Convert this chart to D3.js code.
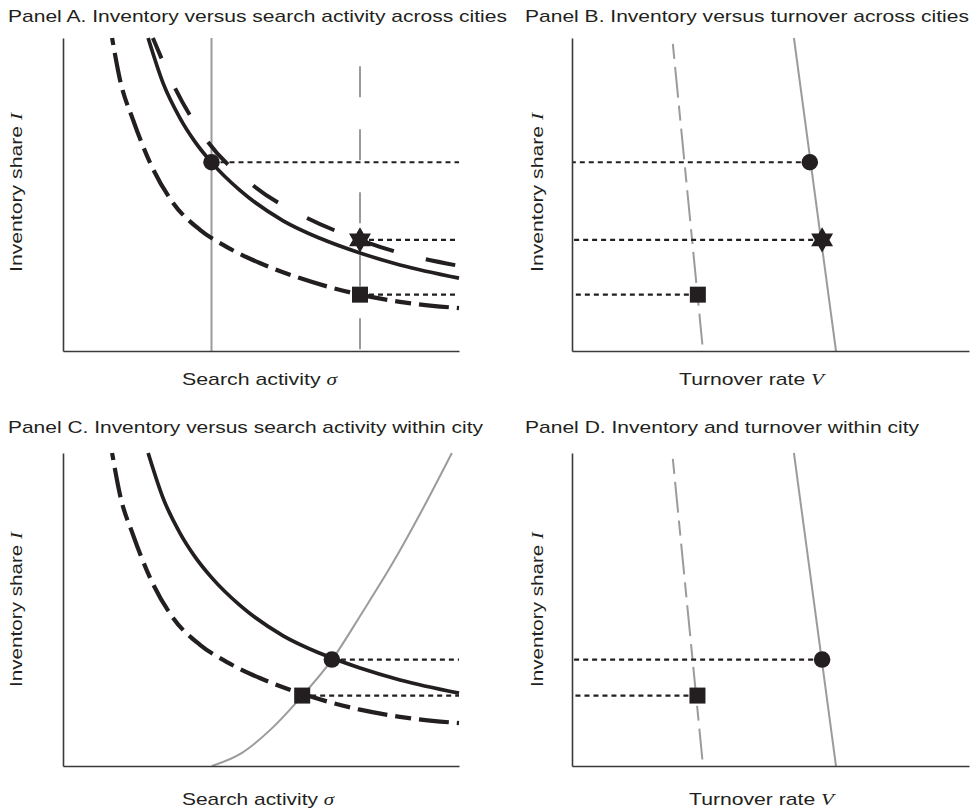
<!DOCTYPE html>
<html>
<head lang="en">
<meta charset="utf-8">
<title>Inventory, search activity and turnover</title>
<style>
body { margin: 0; background: #fff; }
text { font-family: "Liberation Sans", Arial, sans-serif; fill: #231f20; }
</style>
<script src="https://cdnjs.cloudflare.com/ajax/libs/d3/7.8.5/d3.min.js"></script>
</head>
<body>
<script>
// Both axes are unitless; every panel runs 0..10 on each axis
var xDomain = [0, 10],
	yDomain = [0, 10];

// Iso-curves in (search activity, inventory share)
var baseCurve = [[2.15, 10], [2.53, 8.55], [2.95, 7.45], [3.33, 6.69], [3.76, 6.01], [4.47, 5.13],
				 [5.56, 4.16], [6.49, 3.60], [7.50, 3.13], [8.51, 2.75], [10, 2.33]];
var highCurve = [[2.27, 10], [2.83, 8.40], [3.66, 6.68], [4.85, 5.24], [6.16, 4.25], [7.50, 3.55],
				 [8.43, 3.16], [10, 2.72]];
var lowCurve = [[1.24, 10], [1.44, 8.66], [1.77, 7.38], [2.20, 6.01], [2.78, 4.73], [3.46, 3.87],
				[4.14, 3.32], [4.97, 2.81], [5.98, 2.33], [7.50, 1.80], [8.51, 1.57], [10, 1.37]];
// Within-city upward sloping curve (panel C)
var withinCurve = [[3.76, 0], [4.52, 0.42], [5.28, 1.21], [6.04, 2.24], [6.79, 3.39], [7.55, 4.89],
				   [8.31, 6.45], [9.07, 8.18], [9.82, 10]];
// Search activity levels of the two cities (panel A)
var sigmaLow = 3.75, sigmaHigh = 7.5, sigmaHighTop = 9.1;

// Turnover lines in (turnover, inventory share), panels B and D
var turnoverSolid = [[5.59, 10], [6.65, 0]];
var turnoverDashed = [[2.54, 9.81], [3.30, 0]];

// Equilibrium points
var pointsA = [{ type: "circle", x: 3.75, y: 6.03 }, { type: "star", x: 7.5, y: 3.55 }, { type: "square", x: 7.5, y: 1.80 }];
var pointsB = [{ type: "circle", x: 5.99, y: 6.03 }, { type: "star", x: 6.30, y: 3.55 }, { type: "square", x: 3.17, y: 1.80 }];
var pointsC = [{ type: "circle", x: 6.79, y: 3.40 }, { type: "square", x: 6.04, y: 2.25 }];
var pointsD = [{ type: "circle", x: 6.30, y: 3.40 }, { type: "square", x: 3.16, y: 2.25 }];

var titles = ["Panel A. Inventory versus search activity across cities",
			  "Panel B. Inventory versus turnover across cities",
			  "Panel C. Inventory versus search activity within city",
			  "Panel D. Inventory and turnover within city"];

var ink = "#231f20",
	gray = "#9b9b9b";

var svg = d3.select("body").append("svg")
	.attr("width", 974)
	.attr("height", 812);

// six pointed star for d3.symbol
var hexagram = {
	draw: function(context, size) {
		var R = Math.sqrt(size), r = R / Math.sqrt(3);
		for (var k = 0; k < 12; k++) {
			var rad = k % 2 === 0 ? R : r,
				a = (-90 + k * 30) * Math.PI / 180;
			if (k === 0) context.moveTo(rad * Math.cos(a), rad * Math.sin(a));
			else context.lineTo(rad * Math.cos(a), rad * Math.sin(a));
		}
		context.closePath();
	}
};
var symbolTypes = { circle: [d3.symbolCircle, 215], square: [d3.symbolSquare, 256], star: [hexagram, 160] };

function makePanel(left, top, w, h) {
	var g = svg.append("g").attr("transform", "translate(" + left + "," + top + ")");
	var x = d3.scaleLinear().domain(xDomain).range([0, w]);
	var y = d3.scaleLinear().domain(yDomain).range([h, 0]);
	g.append("g").attr("class", "curves");
	g.append("g").attr("class", "marks");
	return { g: g, x: x, y: y };
}

function drawAxes(p) {
	var ax = p.g.append("g").attr("transform", "translate(0," + p.y(0) + ")")
		.call(d3.axisBottom(p.x).tickValues([]).tickSizeOuter(0));
	var ay = p.g.append("g")
		.call(d3.axisLeft(p.y).tickValues([]).tickSizeOuter(0));
	[ax, ay].forEach(function(a) {
		a.select(".domain").attr("stroke", "#3a3a3a").attr("stroke-width", 1.6);
	});
}

function drawLine(p, pts, stroke, width, dash, offset) {
	var line = d3.line()
		.x(function(d) { return p.x(d[0]); })
		.y(function(d) { return p.y(d[1]); })
		.curve(pts.length > 2 ? d3.curveMonotoneX : d3.curveLinear);
	p.g.select(".curves").append("path")
		.datum(pts)
		.attr("d", line)
		.attr("fill", "none")
		.attr("stroke", stroke)
		.attr("stroke-width", width)
		.attr("stroke-dasharray", dash || null)
		.attr("stroke-dashoffset", offset || 0);
}

function drawDotted(p, pts, toRight) {
	p.g.select(".curves").selectAll(null)
		.data(pts)
		.enter()
		.append("line")
			.attr("x1", function(d) { return p.x(d.x); })
			.attr("x2", function(d) { return toRight ? p.x(xDomain[1]) : p.x(xDomain[0]); })
			.attr("y1", function(d) { return p.y(d.y); })
			.attr("y2", function(d) { return p.y(d.y); })
			.attr("stroke", ink)
			.attr("stroke-width", 2.2)
			.attr("stroke-dasharray", "5,4");
}

function drawMarks(p, pts) {
	p.g.select(".marks").selectAll("path")
		.data(pts)
		.enter()
		.append("path")
			.attr("transform", function(d) { return "translate(" + p.x(d.x) + "," + p.y(d.y) + ")"; })
			.attr("d", function(d) { return d3.symbol().type(symbolTypes[d.type][0]).size(symbolTypes[d.type][1])(); })
			.attr("fill", ink);
}

function label(xPos, yPos, text, sym, len, rotate) {
	var t = svg.append("text")
		.attr("font-size", "17px")
		.attr("textLength", len)
		.attr("lengthAdjust", "spacingAndGlyphs");
	if (rotate) t.attr("transform", "translate(" + xPos + "," + yPos + ") rotate(-90)");
	else t.attr("x", xPos).attr("y", yPos);
	t.append("tspan").text(text);
	if (sym) {
		t.append("tspan")
			.style("font-family", "'Liberation Serif', 'Times New Roman', serif")
			.style("font-style", "italic")
			.text(sym);
	}
	return t;
}

// Panel A
var pA = makePanel(63, 38, 396, 313);
drawLine(pA, [[sigmaLow, 0], [sigmaLow, 10]], gray, 2);
drawLine(pA, [[sigmaHigh, sigmaHighTop], [sigmaHigh, 0]], gray, 2, "31,32");
drawLine(pA, lowCurve, ink, 4.2, "30,8,16,8", 47);
drawLine(pA, highCurve, ink, 4, "30,33", 8);
drawLine(pA, baseCurve, ink, 3.7);
drawDotted(pA, pointsA, true);
drawMarks(pA, pointsA);
drawAxes(pA);

// Panel B
var pB = makePanel(572, 38, 397, 313);
drawLine(pB, turnoverDashed, gray, 2, "15,8,31,8");
drawLine(pB, turnoverSolid, gray, 2);
drawDotted(pB, pointsB, false);
drawMarks(pB, pointsB);
drawAxes(pB);

// Panel C
var pC = makePanel(63, 453, 396, 313);
drawLine(pC, withinCurve, gray, 2);
drawLine(pC, lowCurve, ink, 4.2, "30,8,16,8", 47);
drawLine(pC, baseCurve, ink, 3.7);
drawDotted(pC, pointsC, true);
drawMarks(pC, pointsC);
drawAxes(pC);

// Panel D
var pD = makePanel(572, 453, 397, 313);
drawLine(pD, turnoverDashed, gray, 2, "15,8,31,8");
drawLine(pD, turnoverSolid, gray, 2);
drawDotted(pD, pointsD, false);
drawMarks(pD, pointsD);
drawAxes(pD);

// Titles
label(8, 22, titles[0], null, 499);
label(525, 22, titles[1], null, 444);
label(8, 433, titles[2], null, 475);
label(525, 433, titles[3], null, 394);

// Axis labels
label(182, 385, "Search activity ", "\u03c3", 155);
label(679, 385, "Turnover rate ", "V", 145);
label(182, 805, "Search activity ", "\u03c3", 152);
label(689, 805, "Turnover rate ", "V", 145);
label(22, 272, "Inventory share ", "I", 159, true);
label(543, 272, "Inventory share ", "I", 159, true);
label(22, 687, "Inventory share ", "I", 155, true);
label(543, 687, "Inventory share ", "I", 155, true);
</script>
</body>
</html>
